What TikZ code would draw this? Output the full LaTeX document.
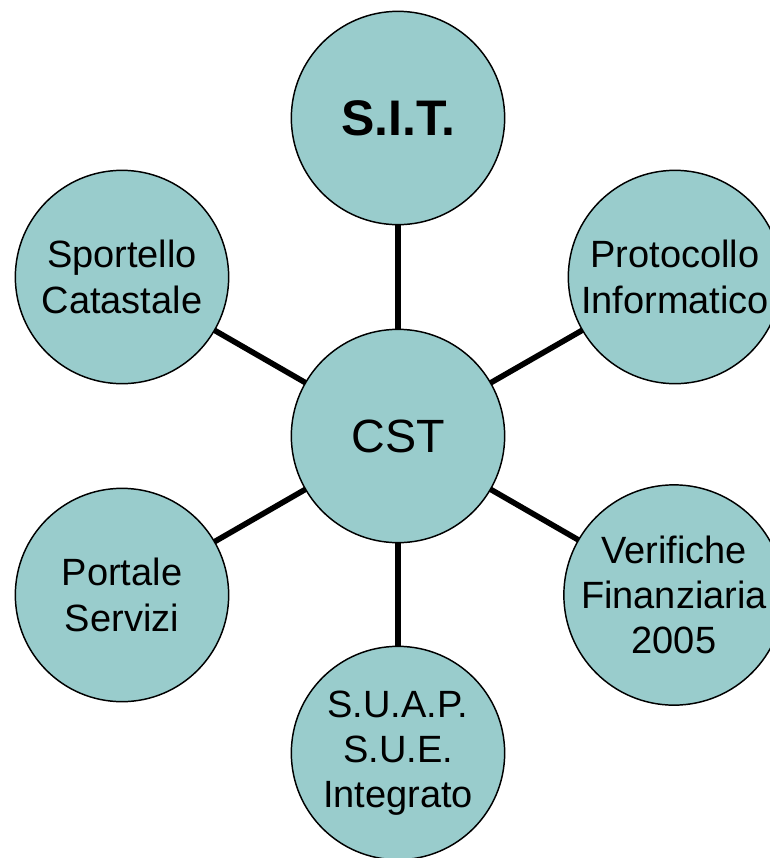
\documentclass[tikz,border=0pt]{standalone}
\usepackage{fontspec}
\setmainfont{Liberation Sans}
\usetikzlibrary{backgrounds}
\definecolor{bubble}{RGB}{153,204,204}
\begin{document}
\begin{tikzpicture}[x=0.75pt,y=-0.75pt,
  bubble/.style={circle,draw=black,line width=1.1pt,fill=bubble,minimum size=160pt,inner sep=0pt,outer sep=0pt,align=center,font=\fontsize{28.5}{34}\selectfont},
  big/.style={font=\fontsize{35}{40}\selectfont},
  link/.style={line width=4.2pt,draw=black}]
\useasboundingbox (0,0) rectangle (770,858);
\clip (0,0) rectangle (770,858);
\node[bubble,big] (cst) at (398,436) {CST};
\node[bubble,font=\fontsize{37.5}{42}\selectfont\bfseries] (sit) at (398,118) {S.I.T.};
\node[bubble] (spo) at (122,277) {Sportello\\Catastale};
\node[bubble] (pro) at (675,277) {Protocollo\\Informatico};
\node[bubble] (por) at (122,595) {Portale\\Servizi};
\node[bubble] (ver) at (674,595) {Verifiche\\Finanziaria\\2005};
\node[bubble] (sua) at (398,753) {S.U.A.P.\\S.U.E.\\Integrato};
\begin{scope}[on background layer]
\foreach \n in {sit,spo,pro,por,ver,sua}
  \draw[link] (cst) -- (\n);
\end{scope}
\end{tikzpicture}
\end{document}
